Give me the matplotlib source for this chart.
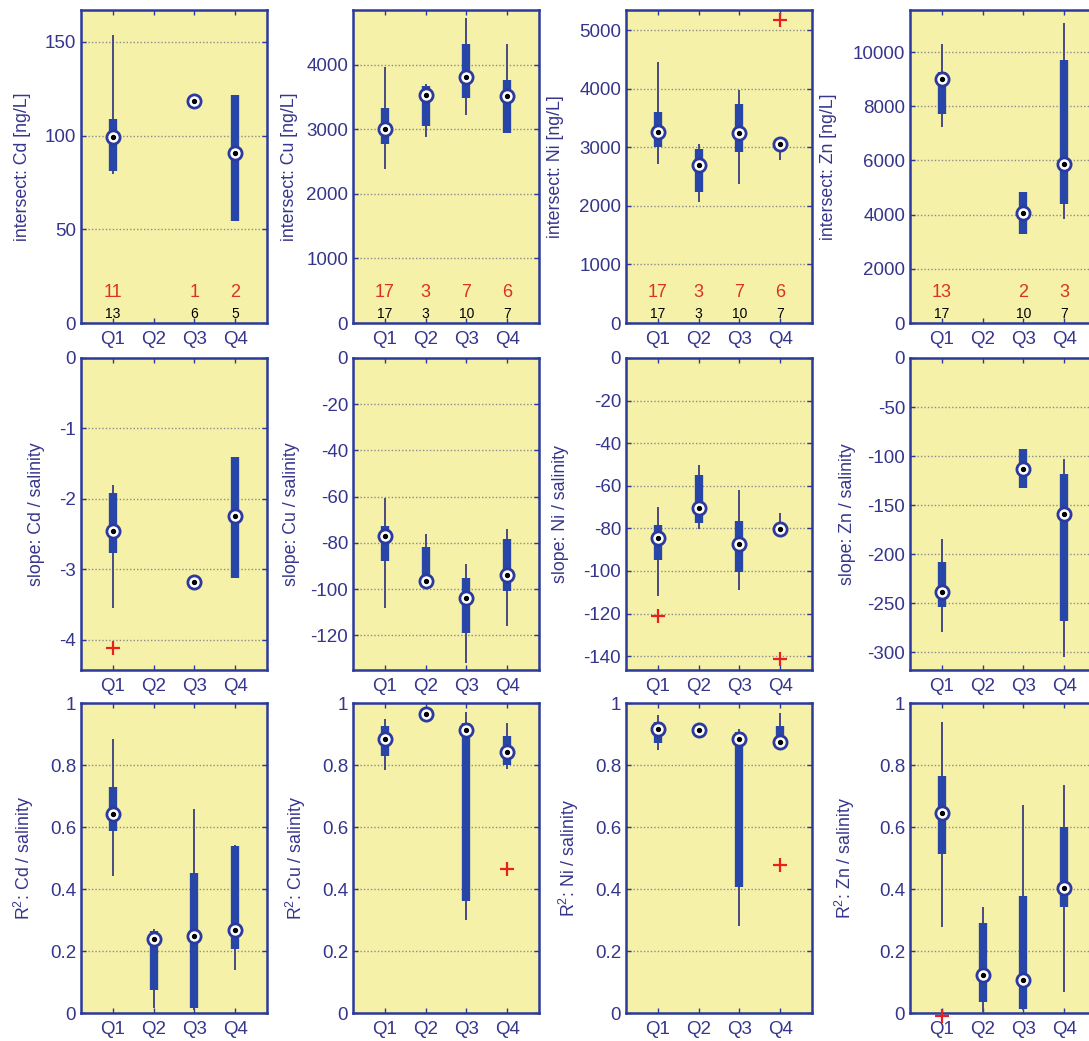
import numpy as np
import matplotlib.pyplot as plt
import matplotlib.transforms as mtransforms
from matplotlib.ticker import FuncFormatter

plt.rcParams['font.family'] = ['Liberation Sans', 'DejaVu Sans']
plt.rcParams['mathtext.fontset'] = 'custom'
plt.rcParams['mathtext.rm'] = 'Liberation Sans'
plt.rcParams['mathtext.it'] = 'Liberation Sans'

quarters = ['Q1', 'Q2', 'Q3', 'Q4']
metals = ['Cd', 'Cu', 'Ni', 'Zn']

# each entry: (whisker low, box low, median, box high, whisker high), None = no data
cd_int = [(79.5, 81, 99, 109, 153.6), None, (118.5, 118.5, 118.5, 118.5, 118.5), (54.5, 54.5, 90.7, 121.4, 121.4)]
cu_int = [(2380, 2780, 3000, 3330, 3970), (2880, 3060, 3540, 3680, 3700), (3230, 3490, 3810, 4320, 4720), (2950, 2950, 3510, 3760, 4330)]
ni_int = [(2725, 3009, 3265, 3607, 4462), (2068, 2240, 2708, 2981, 3067), (2383, 2923, 3255, 3738, 3990), (2781, 2950, 3055, 3080, 3080)]
zn_int = [(7222, 7718, 9015, 9260, 10311), None, (3274, 3274, 4074, 4852, 4852), (3830, 4385, 5867, 9719, 11052)]

cd_slope = [(-3.55, -2.77, -2.45, -1.92, -1.8), None, (-3.18, -3.18, -3.18, -3.18, -3.18), (-3.13, -3.13, -2.25, -1.4, -1.4)]
cu_slope = [(-108, -87.9, -77, -72.7, -60.5), (-96.5, -96.5, -96.5, -81.6, -76.3), (-131.8, -118.8, -104, -95, -89.3), (-116, -100.8, -94, -78.2, -73.9)]
ni_slope = [(-111.9, -94.8, -84.3, -78.4, -69.9), (-80.4, -77.6, -70.3, -55, -50.4), (-108.8, -100.5, -87.3, -76.5, -62), (-80.3, -80.3, -80.3, -80.3, -73)]
zn_slope = [(-279.7, -254, -238.8, -207.5, -184), None, (-132.5, -132.5, -113, -92.6, -92.6), (-304.6, -268, -159, -117.8, -102.5)]

cd_r2 = [(0.441, 0.586, 0.642, 0.729, 0.884), (0.016, 0.075, 0.24, 0.265, 0.271), (0.01, 0.016, 0.247, 0.452, 0.659), (0.14, 0.206, 0.269, 0.54, 0.543)]
cu_r2 = [(0.785, 0.828, 0.884, 0.925, 0.948), (0.965, 0.965, 0.965, 0.965, 0.965), (0.301, 0.36, 0.914, 0.935, 0.97), (0.787, 0.801, 0.842, 0.892, 0.935)]
ni_r2 = [(0.85, 0.87, 0.917, 0.94, 0.96), (0.912, 0.912, 0.912, 0.912, 0.912), (0.282, 0.406, 0.883, 0.905, 0.915), (0.874, 0.874, 0.874, 0.925, 0.968)]
zn_r2 = [(0.277, 0.513, 0.645, 0.766, 0.938), (0.003, 0.035, 0.123, 0.291, 0.343), (0.01, 0.014, 0.107, 0.379, 0.67), (0.068, 0.342, 0.403, 0.6, 0.736)]

# outliers: (quarter number, value)
cd_int_out, cu_int_out, ni_int_out, zn_int_out = [], [], [(4, 5186)], []
cd_slope_out, cu_slope_out, ni_slope_out, zn_slope_out = [(1, -4.12)], [], [(1, -121), (4, -141.2)], []
cd_r2_out, cu_r2_out, ni_r2_out, zn_r2_out = [], [(4, 0.465)], [(4, 0.477)], [(1, -0.01)]

# counts shown in the top row (red = upper, black = lower)
cd_n_red, cd_n_blk = ['11', '', '1', '2'], ['13', '', '6', '5']
cu_n_red, cu_n_blk = ['17', '3', '7', '6'], ['17', '3', '10', '7']
ni_n_red, ni_n_blk = ['17', '3', '7', '6'], ['17', '3', '10', '7']
zn_n_red, zn_n_blk = ['13', '', '2', '3'], ['17', '', '10', '7']

int_ylim = [(0, 167), (0, 4850), (0, 5350), (0, 11550)]
int_ticks = [[0, 50, 100, 150], np.arange(0, 4001, 1000), np.arange(0, 5001, 1000), np.arange(0, 10001, 2000)]
slope_ylim = [(-4.43, 0), (-135, 0), (-146.5, 0), (-318, 0)]
slope_ticks = [np.arange(-4, 0.1, 1), np.arange(-120, 1, 20), np.arange(-140, 1, 20), np.arange(-300, 1, 50)]
r2_ticks = [0, 0.2, 0.4, 0.6, 0.8, 1]

rows = [
    ([cd_int, cu_int, ni_int, zn_int], [cd_int_out, cu_int_out, ni_int_out, zn_int_out],
     int_ylim, int_ticks, 'intersect: {} [ng/L]'),
    ([cd_slope, cu_slope, ni_slope, zn_slope], [cd_slope_out, cu_slope_out, ni_slope_out, zn_slope_out],
     slope_ylim, slope_ticks, 'slope: {} / salinity'),
    ([cd_r2, cu_r2, ni_r2, zn_r2], [cd_r2_out, cu_r2_out, ni_r2_out, zn_r2_out],
     [(0, 1)] * 4, [r2_ticks] * 4, 'R$^2$: {} / salinity'),
]
counts_red = [cd_n_red, cu_n_red, ni_n_red, zn_n_red]
counts_blk = [cd_n_blk, cu_n_blk, ni_n_blk, zn_n_blk]

W, H = 1089, 1041
col_left = [81, 353, 626, 910]
ax_w = 186
row_top = [10, 358, 703]
row_bot = [323, 670, 1013]
label_off = [[58.7, 64.4, 71, 81.7], [44.7, 62, 66, 63.3], [54, 54.4, 54.3, 62]]

face = '#f6f1a8'
spine_c = '#2b3a9c'
text_c = '#35358c'
box_c = '#2846a8'
whisk_c = '#4a4a82'

fig = plt.figure(figsize=(W / 100, H / 100), dpi=100)

for r, (datas, outs, ylims, ticks, lab) in enumerate(rows):
    for c in range(4):
        x0 = col_left[c] / W
        y0 = 1 - row_bot[r] / H
        h = (row_bot[r] - row_top[r]) / H
        ax = fig.add_axes([x0, y0, ax_w / W, h])
        ax.set_facecolor(face)
        for s in ax.spines.values():
            s.set_color(spine_c)
            s.set_linewidth(1.8)
        for i, st in enumerate(datas[c]):
            if st is None:
                continue
            x = i + 1
            lo, q1, med, q3, hi = st
            ax.plot([x, x], [lo, hi], color=whisk_c, lw=1.4, solid_capstyle='butt', zorder=3)
            ax.plot([x, x], [q1, q3], color=box_c, lw=6, solid_capstyle='butt', zorder=4)
            ax.plot(x, med, 'o', ms=9.5, mfc='white', mec=spine_c, mew=2, zorder=5)
            ax.plot(x, med, 'o', ms=2.8, color='k', zorder=6)
        for q, v in outs[c]:
            ax.plot(q, v, '+', color='#e82020', ms=10, mew=1.6, zorder=5, clip_on=False)
        ax.set_xlim(0.22, 4.78)
        ax.set_ylim(*ylims[c])
        ax.set_yticks(ticks[c])
        ax.yaxis.set_major_formatter(FuncFormatter(lambda v, p: '%g' % v))
        ax.set_xticks([1, 2, 3, 4])
        ax.set_xticklabels(quarters)
        ax.yaxis.grid(True, color='#8c8c8c', linestyle=(0, (1, 1.5)), lw=1)
        ax.set_axisbelow(True)
        ax.tick_params(direction='in', length=3.5, width=1, color=spine_c, top=True, right=True,
                       labelsize=13.5, labelcolor=text_c)
        ax.tick_params(axis='x', pad=6)
        ax.tick_params(axis='y', pad=3.5)
        ax.set_ylabel(lab.format(metals[c]), fontsize=12.8, color=text_c)
        ax.yaxis.set_label_coords((-label_off[r][c] + 9) / ax_w, 0.5)
        if r == 0:
            trans = mtransforms.blended_transform_factory(ax.transData, ax.transAxes)
            for i in range(4):
                ax.text(i + 1, 0.096, counts_red[c][i], transform=trans, ha='center', va='center',
                        fontsize=13, color='#d8322a')
                ax.text(i + 1, 0.03, counts_blk[c][i], transform=trans, ha='center', va='center',
                        fontsize=10, color='black')

fig.savefig('out.png', dpi=100)
